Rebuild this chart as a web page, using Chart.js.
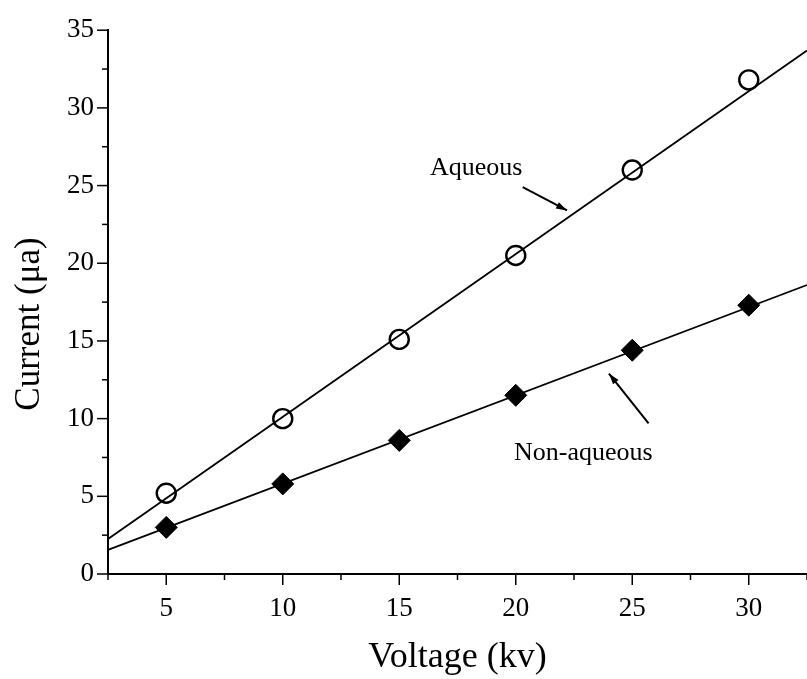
<!DOCTYPE html>
<html>
<head>
<meta charset="utf-8">
<script src="https://cdn.jsdelivr.net/npm/chart.js@4/dist/chart.umd.min.js"></script>
<style>
    html, body { margin: 0; padding: 0; background: #fff; overflow: hidden; }
    #wrap { width: 807px; height: 679px; overflow: hidden; }
</style>
</head>
<body>
<div id="wrap"><canvas id="chart" width="819" height="679"></canvas></div>
<script>
// measured points
const voltage = [5, 10, 15, 20, 25, 30];
const aqueous = [5.2, 10.0, 15.1, 20.5, 26.0, 31.8];
const nonAqueous = [3.0, 5.8, 8.6, 11.5, 14.4, 17.3];

// fitted lines (ends at the axis edges)
const fitVoltage = [2.5, 32.5];
const aqueousFit = [2.25, 33.7];
const nonAqueousFit = [1.55, 18.6];

// axis ranges
const xMin = 2.5, xMax = 32.5;
const yMin = 0, yMax = 35;

// annotation labels + arrows, in data units
const labels = [
    { text: 'Aqueous', x: 18.3, y: 26.1 },
    { text: 'Non-aqueous', x: 22.9, y: 7.8 }
];
const arrows = [
    { from: [20.3, 24.9], to: [22.2, 23.4] },
    { from: [25.7, 9.7], to: [24.0, 12.9] }
];

const serif = '"Liberation Serif", "DejaVu Serif", serif';

function toXY(xs, ys) {
    return xs.map((x, i) => ({ x: x, y: ys[i] }));
}

// tick marks: long on every 5, short on every 2.5
const tickMarks = {
    id: 'tickMarks',
    afterDraw(chart) {
        const ctx = chart.ctx;
        const xs = chart.scales.x, ys = chart.scales.y;
        ctx.save();
        ctx.strokeStyle = '#000';
        ctx.lineWidth = 1.5;
        xs.ticks.forEach(t => {
            const px = xs.getPixelForValue(t.value);
            const len = t.value % 5 === 0 ? 11 : 6;
            ctx.beginPath();
            ctx.moveTo(px, xs.top);
            ctx.lineTo(px, xs.top + len);
            ctx.stroke();
        });
        ys.ticks.forEach(t => {
            const py = ys.getPixelForValue(t.value);
            const len = t.value % 5 === 0 ? 11 : 6;
            ctx.beginPath();
            ctx.moveTo(ys.right, py);
            ctx.lineTo(ys.right - len, py);
            ctx.stroke();
        });
        // y title, placed a bit below the middle like the original
        ctx.fillStyle = '#000';
        ctx.font = '35px ' + serif;
        ctx.textAlign = 'center';
        ctx.textBaseline = 'middle';
        ctx.translate(30, 324);
        ctx.rotate(-Math.PI / 2);
        ctx.fillText('Current (μa)', 0, 0);
        ctx.restore();
    }
};

// text labels and arrows
const annotations = {
    id: 'annotations',
    afterDatasetsDraw(chart) {
        const ctx = chart.ctx;
        const xs = chart.scales.x, ys = chart.scales.y;
        ctx.save();
        ctx.fillStyle = '#000';
        ctx.strokeStyle = '#000';
        ctx.font = '26px ' + serif;
        ctx.textAlign = 'center';
        ctx.textBaseline = 'middle';
        labels.forEach(l => {
            ctx.fillText(l.text, xs.getPixelForValue(l.x), ys.getPixelForValue(l.y));
        });
        ctx.lineWidth = 2;
        arrows.forEach(a => {
            const x1 = xs.getPixelForValue(a.from[0]), y1 = ys.getPixelForValue(a.from[1]);
            const x2 = xs.getPixelForValue(a.to[0]), y2 = ys.getPixelForValue(a.to[1]);
            ctx.beginPath();
            ctx.moveTo(x1, y1);
            ctx.lineTo(x2, y2);
            ctx.stroke();
            const ang = Math.atan2(y2 - y1, x2 - x1);
            const hl = 11, hw = 3.5;
            ctx.beginPath();
            ctx.moveTo(x2, y2);
            ctx.lineTo(x2 - hl * Math.cos(ang) + hw * Math.sin(ang), y2 - hl * Math.sin(ang) - hw * Math.cos(ang));
            ctx.lineTo(x2 - hl * Math.cos(ang) - hw * Math.sin(ang), y2 - hl * Math.sin(ang) + hw * Math.cos(ang));
            ctx.closePath();
            ctx.fill();
        });
        ctx.restore();
    }
};

new Chart(document.getElementById('chart'), {
    type: 'scatter',
    data: {
        datasets: [
            {
                label: 'Aqueous fit',
                data: toXY(fitVoltage, aqueousFit),
                showLine: true,
                borderColor: '#000',
                borderWidth: 1.8,
                pointRadius: 0
            },
            {
                label: 'Non-aqueous fit',
                data: toXY(fitVoltage, nonAqueousFit),
                showLine: true,
                borderColor: '#000',
                borderWidth: 1.8,
                pointRadius: 0
            },
            {
                label: 'Aqueous',
                data: toXY(voltage, aqueous),
                pointStyle: 'circle',
                pointRadius: 9.5,
                pointBorderWidth: 2.4,
                pointBorderColor: '#000',
                pointBackgroundColor: 'rgba(0,0,0,0)'
            },
            {
                label: 'Non-aqueous',
                data: toXY(voltage, nonAqueous),
                pointStyle: 'rectRot',
                pointRadius: 11,
                pointBorderWidth: 1,
                pointBorderColor: '#000',
                pointBackgroundColor: '#000'
            }
        ]
    },
    options: {
        responsive: false,
        animation: false,
        clip: false,
        layout: { padding: { top: 29, right: -40, left: 0, bottom: 0 } },
        plugins: {
            legend: { display: false },
            tooltip: { enabled: false }
        },
        scales: {
            x: {
                type: 'linear',
                min: xMin,
                max: xMax,
                afterFit: s => { s.height = 105; s.paddingRight = 0; },
                grid: { drawOnChartArea: false, drawTicks: false },
                border: { color: '#000', width: 2 },
                ticks: {
                    stepSize: 2.5,
                    autoSkip: false,
                    maxRotation: 0,
                    padding: 19,
                    color: '#000',
                    font: { family: serif, size: 27 },
                    callback: v => (v % 5 === 0 ? String(v) : '')
                },
                title: {
                    display: true,
                    text: 'Voltage (kv)',
                    color: '#000',
                    font: { family: serif, size: 36 },
                    padding: { top: 4, bottom: 0 }
                }
            },
            y: {
                type: 'linear',
                min: yMin,
                max: yMax,
                afterFit: s => { s.width = 108; },
                grid: { drawOnChartArea: false, drawTicks: false },
                border: { color: '#000', width: 2 },
                ticks: {
                    stepSize: 2.5,
                    autoSkip: false,
                    padding: 14,
                    color: '#000',
                    font: { family: serif, size: 27 },
                    callback: v => (v % 5 === 0 ? String(v) : '')
                }
            }
        }
    },
    plugins: [tickMarks, annotations]
});
</script>
</body>
</html>
